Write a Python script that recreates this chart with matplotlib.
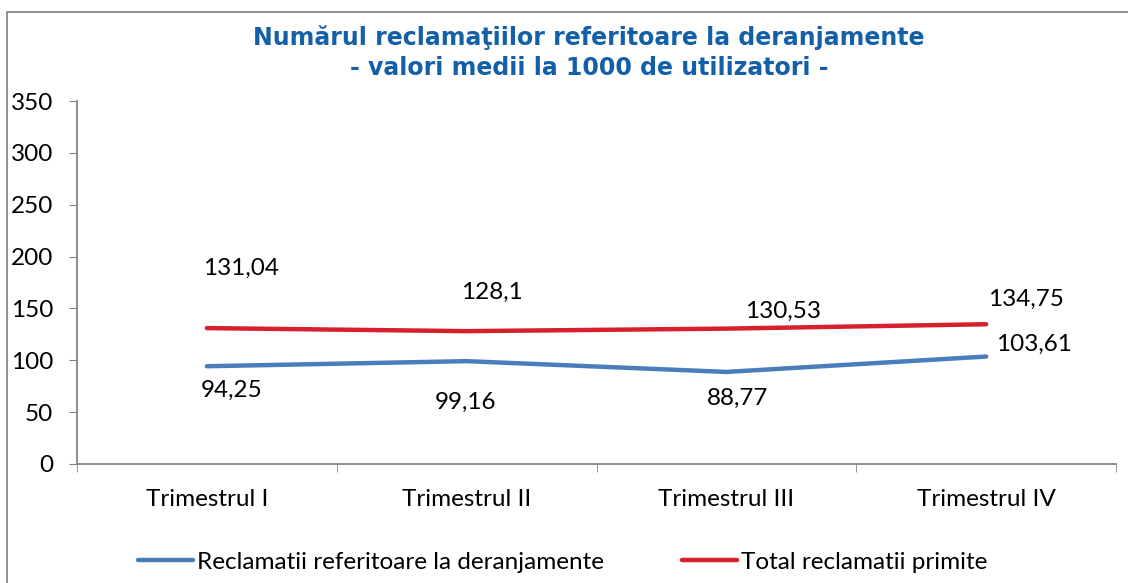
import matplotlib.pyplot as plt
from matplotlib.patches import Rectangle
from matplotlib.ticker import FixedLocator

categories = ['Trimestrul I', 'Trimestrul II', 'Trimestrul III', 'Trimestrul IV']
deranjamente = [94.25, 99.16, 88.77, 103.61]
total = [131.04, 128.1, 130.53, 134.75]
lbl_deranjamente = ['94,25', '99,16', '88,77', '103,61']
lbl_total = ['131,04', '128,1', '130,53', '134,75']

plt.rcParams['font.family'] = ['Lato', 'DejaVu Sans']
fs = 17.5

W, H = 1128, 583
fig = plt.figure(figsize=(W / 100, H / 100), dpi=100)
ax = fig.add_axes([77 / W, 1 - 464 / H, (1116 - 77) / W, (464 - 101) / H])

x = list(range(len(categories)))
blue = '#4A7EBB'
red = '#D7202C'
ax.plot(x, deranjamente, color=blue, lw=3.2, solid_capstyle='round',
        label='Reclamatii referitoare la deranjamente')
ax.plot(x, total, color=red, lw=3.2, solid_capstyle='round',
        label='Total reclamatii primite')

# etichete (offset in pixeli fata de punct)
off_total = [(34, 60), (25, 39), (57, 17), (40, 25)]
off_der = [(25, -24), (-1, -41), (11, -26), (48, 12)]
for i in x:
    ax.annotate(lbl_total[i], (i, total[i]), xytext=off_total[i],
                textcoords='offset pixels', ha='center', va='center', fontsize=fs)
    ax.annotate(lbl_deranjamente[i], (i, deranjamente[i]), xytext=off_der[i],
                textcoords='offset pixels', ha='center', va='center', fontsize=fs)

ax.set_xlim(-0.5, 3.5)
ax.set_ylim(0, 350)
ax.set_yticks(range(0, 351, 50))
ax.set_xticks(x)
ax.set_xticklabels(categories)
ax.xaxis.set_minor_locator(FixedLocator([-0.5, 0.5, 1.5, 2.5, 3.5]))
ax.tick_params(axis='x', which='major', length=0, pad=18, labelsize=fs)
ax.tick_params(axis='x', which='minor', length=6, color='#868686', direction='out')
ax.tick_params(axis='y', length=6, color='#868686', labelsize=fs, pad=11)
for s in ['top', 'right']:
    ax.spines[s].set_visible(False)
for s in ['left', 'bottom']:
    ax.spines[s].set_color('#868686')
    ax.spines[s].set_linewidth(1.3)

fig.text(589 / W, 1 - 37 / H, 'Numărul reclamaţiilor referitoare la deranjamente',
         ha='center', va='center', fontsize=17, fontweight='bold', color='#1460A8',
         family=['DejaVu Sans'])
fig.text(589 / W, 1 - 68 / H, '- valori medii la 1000 de utilizatori -',
         ha='center', va='center', fontsize=17, fontweight='bold', color='#1460A8',
         family=['DejaVu Sans'])

fig.legend(loc='center', bbox_to_anchor=(562.5 / W, 1 - 562 / H), ncol=2, frameon=False,
           fontsize=fs, handlelength=2.26, handletextpad=0.16, columnspacing=3.2)

fig.add_artist(Rectangle((7 / W, -0.1), 1.2, 1.1 - 12 / H, transform=fig.transFigure,
                         fill=False, edgecolor='#888888', lw=1.3))

fig.savefig('out.png', dpi=100)
